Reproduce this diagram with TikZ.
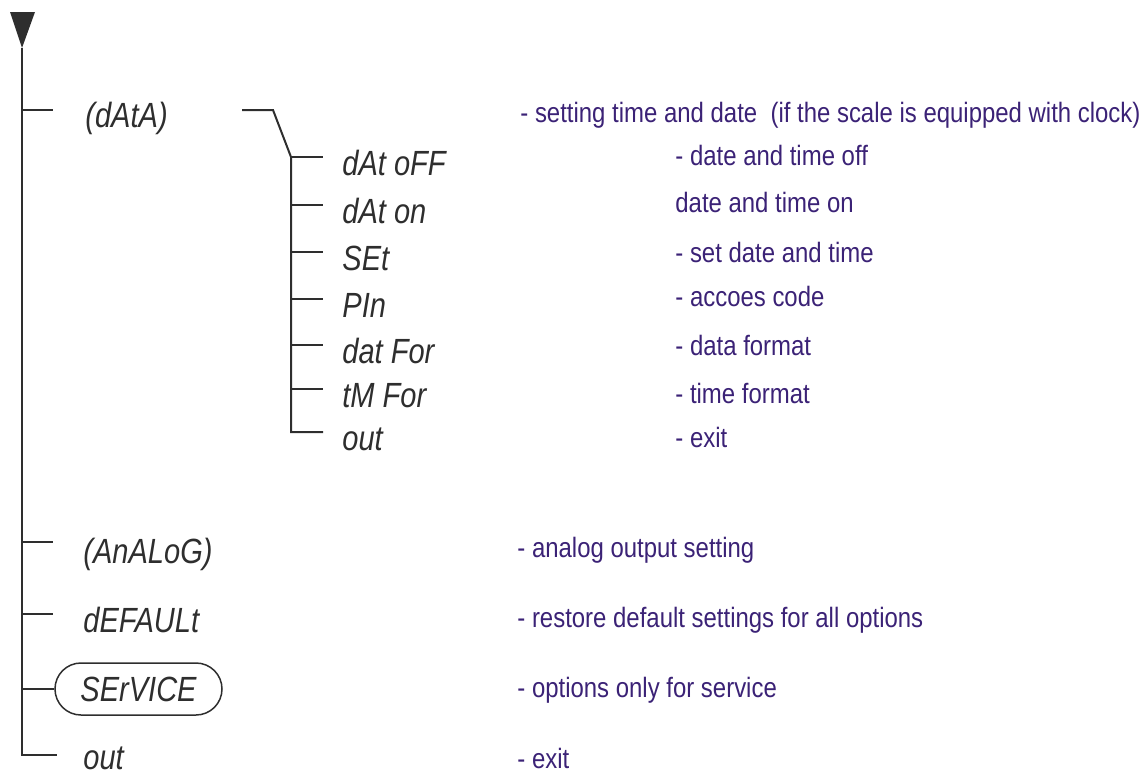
\documentclass[tikz,border=0pt]{standalone}
\usepackage{fontspec}
\usepackage{xcolor}
\usepackage{tikz}
\usetikzlibrary{calc,positioning}
\newfontfamily\menufont{Liberation Sans}[FakeStretch=0.83]
\newfontfamily\notefont{Liberation Sans}[FakeStretch=0.855]
\definecolor{ink}{HTML}{2E2E2E}
\definecolor{note}{HTML}{3B2276}
\tikzset{
  tree/.style={draw=ink, line width=1pt, line join=miter},
  item/.style={text=ink, font=\menufont\itshape\fontsize{17.5}{19}\selectfont, anchor=base west, inner sep=0pt},
  note/.style={text=note, font=\notefont\fontsize{14}{16}\selectfont, anchor=base west, inner sep=0pt},
  pill/.style={draw=ink, line width=0.75pt, rounded corners=13pt, minimum width=83.5pt, minimum height=26pt, inner sep=0pt,
    text=ink, font=\menufont\itshape\fontsize{17.5}{19}\selectfont},
}

\begin{document}
\begin{tikzpicture}[x=0.5pt, y=-0.5pt]
  \useasboundingbox (0,0) rectangle (1147,776);
  \def\sx{291}

  % main spine with the entry arrow
  \coordinate (top) at (22,48);
  \coordinate (bot) at (22,755);
  \coordinate (botend) at (57,755);
  \fill[ink] (10,12) -- (35,12) -- (top) -- cycle;
  \draw[tree] (top) -- (bot) -- (botend);

  % main branches
  \foreach \y/\name in {110/data, 542/analog, 614/default, 689/service}{
    \coordinate (b-\name) at (22,\y);
    \coordinate (e-\name) at (53,\y);
  }
  \draw[tree] (b-data) -- (e-data);
  \draw[tree] (b-analog) -- (e-analog);
  \draw[tree] (b-default) -- (e-default);

  \node[item] (i-data) at (85,127) {(dAtA)};
  \node[item] (i-analog) at (83,563) {(AnALoG)};
  \node[item] (i-default) at (83,632) {dEFAULt};
  \node[pill] (i-service) at (138.5,689) {SErVICE};
  \node[item] (i-out) at (83,769) {out};
  \draw[tree] (b-service) -- (i-service.west);

  % sub menu of (dAtA)
  \coordinate (k1) at (242,110);
  \coordinate (k2) at (273,110);
  \coordinate (s-top) at (\sx,157);
  \coordinate (s-bot) at (\sx,432);
  \draw[tree] (k1) -- (k2) -- (s-top) -- (s-bot) -- ++(32,0);
  \foreach \y/\name/\lab in {157/off/dAt oFF, 205/on/dAt on, 252/set/SEt, 299/pin/PIn,
                             345/dfor/dat For, 389/tfor/tM For, 432/out/out}{
    \coordinate (s-\name) at (\sx,\y);
    \draw[tree] (s-\name) -- ++(32,0);
    \node[item] (i-\name) at (342,{\y+18}) {\lab};
  }

  % explanations
  \node[note] (n-data) at (520,122) {- setting time and date~ (if the scale is equipped with clock)};
  \node[note] (n-off) at (675,165) {- date and time off};
  \node[note] (n-on) at (675,212) {date and time on};
  \node[note] (n-set) at (675,262) {- set date and time};
  \node[note] (n-pin) at (675,306) {- accoes code};
  \node[note] (n-dfor) at (675,355) {- data format};
  \node[note] (n-tfor) at (675,403) {- time format};
  \node[note] (n-sout) at (675,447) {- exit};
  \node[note] (n-analog) at (517,557) {- analog output setting};
  \node[note] (n-default) at (517,627) {- restore default settings for all options};
  \node[note] (n-service) at (517,697) {- options only for service};
  \node[note] (n-out) at (517,768) {- exit};
\end{tikzpicture}
\end{document}
